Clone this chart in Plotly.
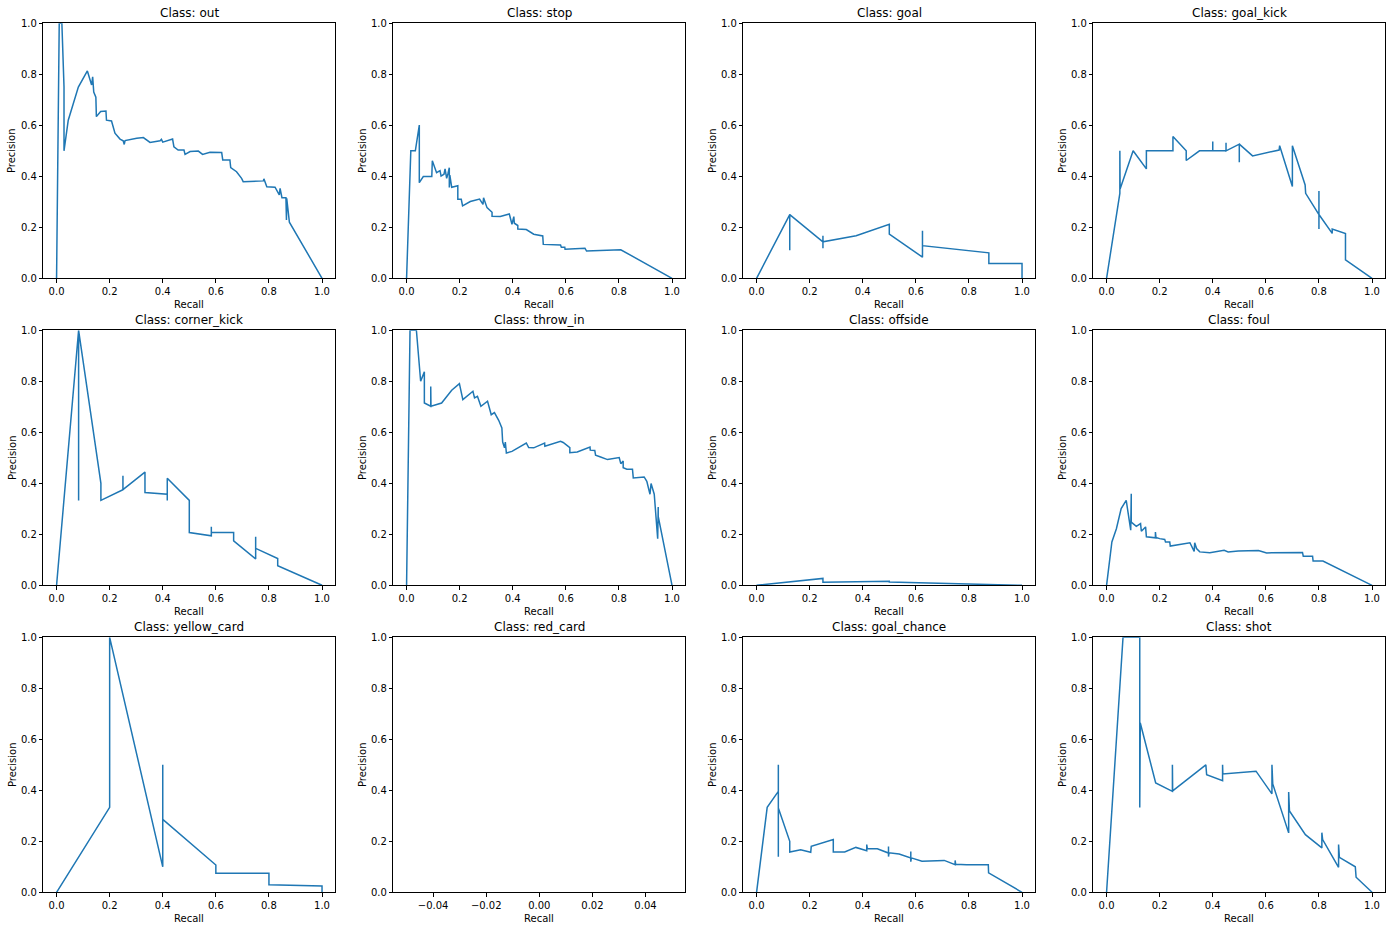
import plotly.graph_objects as go

W, H = 1390, 931

classes = ["out", "stop", "goal", "goal_kick", "corner_kick", "throw_in",
           "offside", "foul", "yellow_card", "red_card", "goal_chance", "shot"]

out_recall = [0.0, 0.01, 0.02, 0.028, 0.028, 0.038, 0.044, 0.082, 0.116, 0.132, 0.136, 0.14, 0.148, 0.15,
              0.166, 0.186, 0.188, 0.207, 0.212, 0.22, 0.239, 0.251, 0.255, 0.258, 0.302, 0.327, 0.352, 0.39,
              0.395, 0.4, 0.437, 0.442, 0.458, 0.48, 0.484, 0.503, 0.534, 0.55, 0.578, 0.622, 0.626, 0.653,
              0.656, 0.678, 0.697, 0.703, 0.779, 0.781, 0.792, 0.823, 0.839, 0.842, 0.849, 0.864, 0.866,
              0.867, 0.877, 1.0]
out_precision = [0.0, 1.0, 1.0, 0.75, 0.5, 0.575, 0.62, 0.75, 0.813, 0.758, 0.79, 0.73, 0.71, 0.634,
                 0.654, 0.656, 0.62, 0.617, 0.6, 0.569, 0.546, 0.539, 0.525, 0.54, 0.549, 0.552, 0.533, 0.539,
                 0.545, 0.534, 0.546, 0.516, 0.503, 0.503, 0.486, 0.497, 0.499, 0.486, 0.494, 0.493, 0.464, 0.464,
                 0.434, 0.418, 0.392, 0.379, 0.382, 0.39, 0.359, 0.357, 0.327, 0.353, 0.316, 0.316, 0.229,
                 0.314, 0.22, 0.0]

stop_recall = [0.0, 0.016, 0.033, 0.048, 0.048, 0.063, 0.095, 0.097, 0.113, 0.126, 0.13, 0.141, 0.145, 0.151,
               0.156, 0.161, 0.161, 0.163, 0.17, 0.193, 0.193, 0.206, 0.211, 0.24, 0.275, 0.288, 0.29, 0.303,
               0.322, 0.322, 0.353, 0.387, 0.397, 0.404, 0.406, 0.419, 0.419, 0.451, 0.479, 0.513, 0.515,
               0.542, 0.58, 0.583, 0.596, 0.597, 0.672, 0.678, 0.807, 1.0]
stop_precision = [0.0, 0.5, 0.5, 0.601, 0.375, 0.399, 0.399, 0.461, 0.414, 0.422, 0.401, 0.408, 0.429, 0.392,
                  0.411, 0.434, 0.356, 0.405, 0.357, 0.363, 0.31, 0.31, 0.284, 0.301, 0.311, 0.29, 0.316, 0.277,
                  0.259, 0.243, 0.242, 0.252, 0.212, 0.242, 0.216, 0.207, 0.193, 0.191, 0.173, 0.166, 0.133,
                  0.133, 0.131, 0.122, 0.122, 0.114, 0.118, 0.107, 0.112, 0.0]

goal_recall = [0.0, 0.125, 0.125, 0.125, 0.25, 0.25, 0.25, 0.25, 0.375, 0.5, 0.5, 0.625, 0.625, 0.625,
               0.875, 0.875, 1.0, 1.0]
goal_precision = [0.0, 0.25, 0.11, 0.25, 0.143, 0.118, 0.167, 0.143, 0.167, 0.212, 0.173, 0.083, 0.186, 0.128,
                  0.1, 0.058, 0.058, 0.0]

goal_kick_recall = [0.0, 0.05, 0.05, 0.051, 0.1, 0.15, 0.15, 0.25, 0.25, 0.3, 0.3, 0.35, 0.4, 0.4, 0.4, 0.45,
                    0.45, 0.45, 0.5, 0.5, 0.5, 0.55, 0.65, 0.652, 0.7, 0.7, 0.748, 0.75, 0.8, 0.8, 0.8, 0.8,
                    0.85, 0.85, 0.9, 0.9, 1.0]
goal_kick_precision = [0.0, 0.333, 0.5, 0.35, 0.5, 0.429, 0.5, 0.5, 0.556, 0.5, 0.462, 0.5, 0.5, 0.536, 0.5, 0.5,
                       0.532, 0.5, 0.526, 0.455, 0.526, 0.48, 0.503, 0.52, 0.36, 0.52, 0.366, 0.333, 0.25, 0.342,
                       0.193, 0.25, 0.176, 0.193, 0.176, 0.072, 0.0]

corner_kick_recall = [0.0, 0.083, 0.083, 0.083, 0.167, 0.167, 0.25, 0.25, 0.25, 0.333, 0.333, 0.417, 0.417,
                      0.417, 0.5, 0.5, 0.583, 0.583, 0.583, 0.667, 0.667, 0.75, 0.75, 0.75, 0.833, 0.833, 1.0]
corner_kick_precision = [0.0, 1.0, 0.333, 1.0, 0.4, 0.333, 0.375, 0.43, 0.375, 0.444, 0.364, 0.357, 0.333,
                         0.42, 0.333, 0.207, 0.194, 0.23, 0.207, 0.207, 0.174, 0.103, 0.19, 0.145, 0.105, 0.077,
                         0.0]

throw_in_recall = [0.0, 0.013, 0.037, 0.053, 0.067, 0.067, 0.091, 0.091, 0.092, 0.132, 0.17, 0.199, 0.212, 0.25,
                   0.256, 0.267, 0.28, 0.305, 0.319, 0.331, 0.347, 0.359, 0.362, 0.369, 0.372, 0.376, 0.397,
                   0.451, 0.46, 0.479, 0.52, 0.521, 0.58, 0.59, 0.615, 0.615, 0.643, 0.691, 0.692, 0.709, 0.712,
                   0.731, 0.757, 0.801, 0.807, 0.816, 0.816, 0.83, 0.851, 0.854, 0.895, 0.905, 0.917, 0.921,
                   0.933, 0.946, 0.948, 0.948, 1.0]
throw_in_precision = [0.0, 1.0, 1.0, 0.8, 0.837, 0.715, 0.702, 0.78, 0.702, 0.715, 0.765, 0.791, 0.728, 0.761,
                      0.735, 0.741, 0.702, 0.722, 0.669, 0.677, 0.647, 0.617, 0.562, 0.539, 0.562, 0.519, 0.525,
                      0.558, 0.54, 0.539, 0.558, 0.545, 0.565, 0.56, 0.54, 0.52, 0.523, 0.542, 0.53, 0.529, 0.51,
                      0.503, 0.493, 0.501, 0.477, 0.487, 0.461, 0.455, 0.455, 0.421, 0.425, 0.408, 0.357, 0.399,
                      0.357, 0.183, 0.307, 0.27, 0.0]

offside_recall = [0.0, 0.25, 0.25, 0.5, 0.5, 1.0, 1.0]
offside_precision = [0.0, 0.027, 0.012, 0.016, 0.013, 0.002, 0.0]

foul_recall = [0.0, 0.02, 0.037, 0.055, 0.074, 0.091, 0.093, 0.093, 0.112, 0.128, 0.131, 0.147, 0.15, 0.184,
               0.184, 0.186, 0.2, 0.219, 0.222, 0.238, 0.24, 0.314, 0.33, 0.332, 0.339, 0.351, 0.389, 0.443,
               0.458, 0.496, 0.572, 0.603, 0.738, 0.741, 0.776, 0.778, 0.815, 1.0]
foul_precision = [0.0, 0.17, 0.222, 0.301, 0.333, 0.216, 0.359, 0.248, 0.231, 0.242, 0.212, 0.229, 0.19, 0.186,
                  0.209, 0.188, 0.183, 0.18, 0.17, 0.17, 0.154, 0.167, 0.133, 0.167, 0.144, 0.131, 0.128, 0.137,
                  0.131, 0.135, 0.136, 0.127, 0.129, 0.114, 0.114, 0.095, 0.095, 0.0]

yellow_card_recall = [0.0, 0.2, 0.2, 0.4, 0.4, 0.4, 0.6, 0.6, 0.8, 0.8, 1.0, 1.0]
yellow_card_precision = [0.0, 0.333, 1.0, 0.1, 0.5, 0.286, 0.107, 0.075, 0.075, 0.03, 0.025, 0.0]

red_card_recall = []
red_card_precision = []

goal_chance_recall = [0.0, 0.04, 0.082, 0.082, 0.082, 0.082, 0.125, 0.125, 0.166, 0.204, 0.206, 0.289, 0.289,
                      0.332, 0.374, 0.415, 0.415, 0.417, 0.455, 0.497, 0.497, 0.497, 0.499, 0.537, 0.581, 0.581,
                      0.581, 0.583, 0.623, 0.667, 0.707, 0.748, 0.748, 0.75, 0.791, 0.873, 0.874, 1.0]
goal_chance_precision = [0.0, 0.333, 0.396, 0.5, 0.139, 0.331, 0.2, 0.158, 0.167, 0.157, 0.18, 0.207, 0.158,
                         0.158, 0.176, 0.163, 0.187, 0.172, 0.171, 0.154, 0.18, 0.14, 0.155, 0.15, 0.135, 0.16,
                         0.12, 0.135, 0.122, 0.124, 0.125, 0.108, 0.125, 0.11, 0.108, 0.108, 0.076, 0.0]

shot_recall = [0.0, 0.062, 0.125, 0.125, 0.127, 0.185, 0.248, 0.248, 0.249, 0.374, 0.377, 0.437, 0.437, 0.438,
               0.563, 0.623, 0.623, 0.626, 0.686, 0.686, 0.689, 0.749, 0.811, 0.811, 0.814, 0.874, 0.874, 0.877,
               0.937, 0.94, 1.0]
shot_precision = [0.0, 1.0, 1.0, 0.333, 0.664, 0.429, 0.396, 0.5, 0.398, 0.5, 0.461, 0.438, 0.5, 0.464,
                  0.475, 0.386, 0.5, 0.425, 0.233, 0.393, 0.319, 0.226, 0.174, 0.234, 0.207, 0.098, 0.187, 0.137,
                  0.1, 0.059, 0.0]

recalls = [out_recall, stop_recall, goal_recall, goal_kick_recall, corner_kick_recall, throw_in_recall,
           offside_recall, foul_recall, yellow_card_recall, red_card_recall, goal_chance_recall, shot_recall]
precisions = [out_precision, stop_precision, goal_precision, goal_kick_precision, corner_kick_precision,
              throw_in_precision, offside_precision, foul_precision, yellow_card_precision, red_card_precision,
              goal_chance_precision, shot_precision]

x_ticks = [0.0, 0.2, 0.4, 0.6, 0.8, 1.0]
y_ticks = [0.0, 0.2, 0.4, 0.6, 0.8, 1.0]
red_card_x_ticks = [-0.04, -0.02, 0.0, 0.02, 0.04]

# layout geometry (pixels)
col_left = [43.3, 393.3, 743.3, 1093.3]
ax_w = 292.0
row_top = [23.3, 330.3, 637.3]
ax_h = 255.0

FONT = "DejaVu Sans"
fig = go.Figure()
annotations = []
layout = dict(
    width=W, height=H, margin=dict(l=0, r=0, t=0, b=0, autoexpand=False),
    paper_bgcolor="white", plot_bgcolor="white", showlegend=False,
    font=dict(family=FONT, size=10, color="black"),
)

for i, name in enumerate(classes):
    r, c = divmod(i, 4)
    k = "" if i == 0 else str(i + 1)
    x0 = col_left[c] / W
    x1 = (col_left[c] + ax_w) / W
    y1 = 1 - row_top[r] / H
    y0 = 1 - (row_top[r] + ax_h) / H
    fig.add_trace(go.Scatter(x=recalls[i], y=precisions[i], mode="lines",
                             line=dict(color="#1f77b4", width=1.5),
                             xaxis="x" + k, yaxis="y" + k, hoverinfo="skip"))
    common = dict(showline=True, mirror=True, linecolor="black", linewidth=0.8,
                  ticks="outside", ticklen=3.5, tickwidth=0.8, tickcolor="black", automargin=False,
                  showgrid=False, zeroline=False, tickfont=dict(family=FONT, size=10, color="black"))
    if name == "red_card":
        xa = dict(common, domain=[x0, x1], range=[-0.055, 0.055], tickvals=red_card_x_ticks,
                  tickformat=".2f", anchor="y" + k)
    else:
        xa = dict(common, domain=[x0, x1], range=[-0.05, 1.05], tickvals=x_ticks,
                  tickformat=".1f", anchor="y" + k)
    ya = dict(common, domain=[y0, y1], range=[0, 1], tickvals=y_ticks, tickformat=".1f", anchor="x" + k)
    layout["xaxis" + k] = xa
    layout["yaxis" + k] = ya

    cx = (col_left[c] + ax_w / 2) / W
    annotations.append(dict(text="Class: " + name, x=cx, y=y1 + 1 / H, xref="paper", yref="paper",
                            xanchor="center", yanchor="bottom", showarrow=False,
                            font=dict(family=FONT, size=12, color="black")))
    annotations.append(dict(text="Recall", x=cx, y=1 - (row_top[r] + ax_h + 26) / H, xref="paper",
                            yref="paper", xanchor="center", yanchor="middle", showarrow=False,
                            font=dict(family=FONT, size=10, color="black")))
    annotations.append(dict(text="Precision", x=(col_left[c] - 31) / W, y=(y0 + y1) / 2, xref="paper",
                            yref="paper", xanchor="center", yanchor="middle", showarrow=False, textangle=-90,
                            font=dict(family=FONT, size=10, color="black")))

layout["annotations"] = annotations
fig.update_layout(**layout)
fig.write_html("out.html", config={"displayModeBar": False},
               post_script="document.body.style.margin='0';document.body.style.overflow='hidden';")
